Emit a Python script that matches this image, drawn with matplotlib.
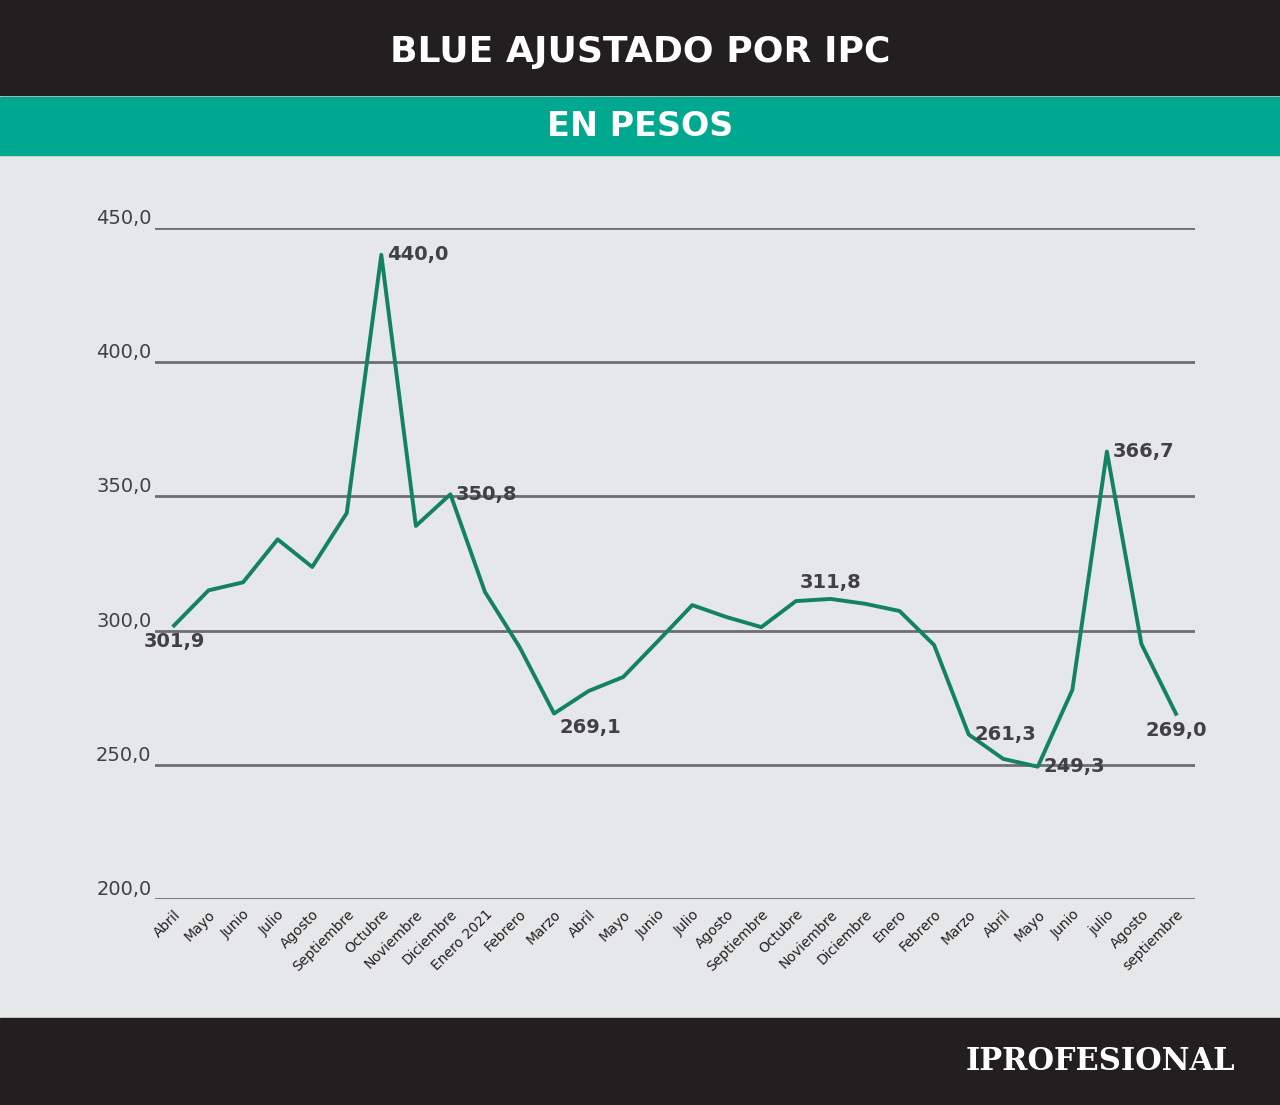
import matplotlib
matplotlib.use("Agg")
import matplotlib.pyplot as plt
from matplotlib.patches import Rectangle

months = ["Abril","Mayo","Junio","Julio","Agosto","Septiembre","Octubre","Noviembre","Diciembre","Enero 2021",
          "Febrero","Marzo","Abril","Mayo","Junio","Julio","Agosto","Septiembre","Octubre","Noviembre",
          "Diciembre","Enero","Febrero","Marzo","Abril","Mayo","Junio","julio","Agosto","septiembre"]
values = [301.9,315.0,318.0,334.0,323.7,343.8,440.0,339.0,350.8,314.4,
          293.9,269.1,277.5,282.7,296.0,309.5,305.0,301.3,311.0,311.8,
          310.0,307.3,294.6,261.3,252.2,249.3,277.9,366.7,295.0,269.0]
labeled = {0:(301.9,"below"),6:(440.0,"right"),8:(350.8,"right"),11:(269.1,"belowright"),
           19:(311.8,"above"),23:(261.3,"right"),25:(249.3,"right"),27:(366.7,"right"),29:(269.0,"below")}
yticks = [200,250,300,350,400,450]

W,H = 1280,1105
fig = plt.figure(figsize=(W/100,H/100),dpi=100)
fig.patch.set_facecolor("#e6e7e8")
bg = fig.add_axes([0,0,1,1]); bg.set_xlim(0,W); bg.set_ylim(H,0); bg.axis("off")
bg.add_patch(Rectangle((0,0),W,95,color="#231f20"))
bg.add_patch(Rectangle((0,97),W,58,color="#00a88f"))
bg.add_patch(Rectangle((0,1018),W,87,color="#231f20"))
bg.text(640,52,"BLUE AJUSTADO POR IPC",color="white",fontsize=26,fontweight="bold",ha="center",va="center")
bg.text(640,126,"EN PESOS",color="white",fontsize=24,fontweight="bold",ha="center",va="center")
bg.text(1235,1062,"IPROFESIONAL",color="white",fontsize=22,fontweight="bold",family="DejaVu Serif",ha="right",va="center")

ax = fig.add_axes([155/W,1-899/H,(1195-155)/W,(899-228)/H])
ax.set_facecolor("none")
ax.set_ylim(200,450); ax.set_xlim(-0.55,len(values)-0.45)
for y in yticks:
    ax.axhline(y,color="#6d6e71",lw=2,zorder=1)
    ax.text(-0.65,y,f"{y:.1f}".replace(".",","),ha="right",va="bottom",fontsize=14,color="#414042")
ax.set_yticks([])
for s in ax.spines.values(): s.set_visible(False)
x = list(range(len(values)))
ax.plot(x,values,color="#13825f",lw=2.8,zorder=3)
ax.set_xticks(x)
ax.set_xticklabels(months,rotation=45,ha="right",rotation_mode="anchor",fontsize=10,color="#231f20")
ax.tick_params(axis="x",length=0,pad=6)
for i,(v,pos) in labeled.items():
    t = f"{v:.1f}".replace(".",",")
    kw = dict(fontsize=14,fontweight="bold",color="#414042",zorder=4)
    if pos=="right": ax.annotate(t,(i,v),xytext=(4,0),textcoords="offset points",ha="left",va="center",**kw)
    elif pos=="above": ax.annotate(t,(i,v),xytext=(0,5),textcoords="offset points",ha="center",va="bottom",**kw)
    elif pos=="belowright": ax.annotate(t,(i,v),xytext=(4,-3),textcoords="offset points",ha="left",va="top",**kw)
    else: ax.annotate(t,(i,v),xytext=(0,-5),textcoords="offset points",ha="center",va="top",**kw)
fig.savefig("out.png",dpi=100,facecolor=fig.get_facecolor())
